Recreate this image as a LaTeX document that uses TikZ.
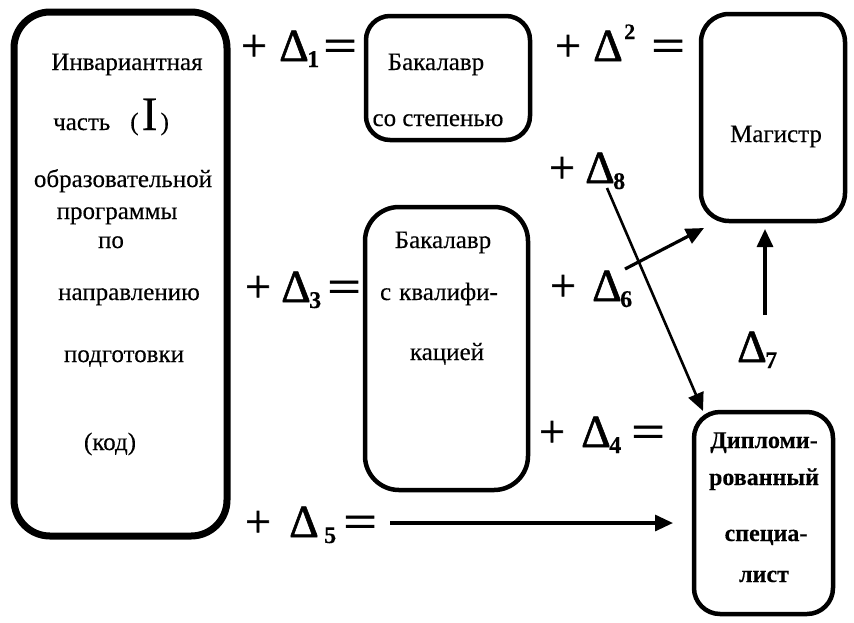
\documentclass[tikz,border=0pt]{standalone}
\usepackage{fontspec}
\setmainfont[FakeBold=0.3]{Liberation Serif}
\newfontfamily\symfont[FakeBold=1.2]{Liberation Serif}
\usepackage{graphicx}
\usetikzlibrary{arrows.meta}
\newcommand\eqsign{\scalebox{1.3}[1]{=}}
\begin{document}
\begin{tikzpicture}[x=1pt,y=-1pt,
  box/.style={draw, rounded corners=#1, line width=4.5pt, inner sep=0pt, outer sep=0pt},
  box/.default=28pt,
  bigbox/.style={box=36pt, line width=7pt},
  txt/.style={font=\fontsize{25}{25}\selectfont, inner sep=0pt, anchor=base},
  btxt/.style={txt, font=\bfseries\fontsize{24}{24}\selectfont},
  sym/.style={font=\symfont\fontsize{46}{46}\selectfont, inner sep=0pt, anchor=base},
  idx/.style={font=\bfseries\fontsize{24}{24}\selectfont, inner sep=0pt, anchor=base west},
  arr/.style={line width=3.2pt, -{Triangle[length=18pt,width=16pt]}}
]
\useasboundingbox (0,0) rectangle (854,622);

% rounded boxes
\node[bigbox, minimum width=213pt, minimum height=524pt] (inv) at (120.5,274) {};
\node[box=24pt, minimum width=164pt, minimum height=124pt] (bak1) at (448,78) {};
\node[box=34pt, minimum width=163pt, minimum height=283pt] (bak2) at (446.5,348.5) {};
\node[box=28pt, minimum width=144pt, minimum height=207pt] (mag) at (773,117.5) {};
\node[box=26pt, minimum width=139pt, minimum height=202pt] (dip) at (763.5,513) {};

% invariant part of the programme
\node[txt] (i1) at (127,70) {Инвариантная};
\node[txt, anchor=base west] (i2) at (53,130) {часть\hspace{20pt}(\hspace{3pt}{\fontsize{48}{48}\selectfont I}\hspace{3pt})};
\node[txt] (i3) at (123,187) {образовательной};
\node[txt] (i4) at (117,219) {программы};
\node[txt] (i5) at (111,248) {по};
\node[txt] (i6) at (129,300) {направлению};
\node[txt] (i7) at (124,362) {подготовки};
\node[txt] (i8) at (110,450) {(код)};

% bachelor with degree
\node[txt] (b1) at (436,70) {Бакалавр};
\node[txt] (b2) at (438,126) {со степенью};

% bachelor with qualification
\node[txt] (c1) at (443,248) {Бакалавр};
\node[txt] (c2) at (439,300) {с\hspace{8pt}квалифи-};
\node[txt] (c3) at (447,360) {кацией};

% master
\node[txt] (m1) at (776,142) {Магистр};

% certified specialist
\node[btxt] (s1) at (764,448) {Дипломи-};
\node[btxt] (s2) at (764,485) {рованный};
\node[btxt] (s3) at (766,541) {специа-};
\node[btxt] (s4) at (764,582) {лист};

% + Delta_1 =
\node[sym] (p1) at (254,61) {+};
\node[sym] (d1) at (294,61) {Δ};
\node[idx] (n1) at (307,67) {1};
\node[sym] (q1) at (340,61) {\eqsign};

% + Delta^2 =
\node[sym] (p2) at (568,61) {+};
\node[sym] (d2) at (608,61) {Δ};
\node[idx, font=\bfseries\fontsize{22}{22}\selectfont] (n2) at (624,39) {2};
\node[sym] (q2) at (668,61) {\eqsign};

% + Delta_8
\node[sym] (p8) at (562,183) {+};
\node[sym] (d8) at (600,183) {Δ};
\node[idx] (n8) at (613,189) {8};

% + Delta_3 =
\node[sym] (p3) at (258,302) {+};
\node[sym] (d3) at (296,302) {Δ};
\node[idx] (n3) at (309,308) {3};
\node[sym] (q3) at (344,302) {\eqsign};

% + Delta_6
\node[sym] (p6) at (563,301) {+};
\node[sym] (d6) at (607,301) {Δ};
\node[idx] (n6) at (620,307) {6};

% Delta_7
\node[sym] (d7) at (752,362) {Δ};
\node[idx] (n7) at (765,368) {7};

% + Delta_4 =
\node[sym] (p4) at (552,447) {+};
\node[sym] (d4) at (596,447) {Δ};
\node[idx] (n4) at (609,453) {4};
\node[sym] (q4) at (648,447) {\eqsign};

% + Delta_5 =
\node[sym] (p5) at (258,537) {+};
\node[sym] (d5) at (304,537) {Δ};
\node[idx] (n5) at (324,543) {5};
\node[sym] (q5) at (360,537) {\eqsign};

% free ends of the connectors
\coordinate (a5s) at (390,523);
\coordinate (a6s) at (625,269);
\coordinate (a7s) at (765,315);
\coordinate (a8s) at (607,188);

% connectors
\draw[arr] (a5s) -- (a5s -| dip.west) [shorten >=21pt];
\draw[arr] (a6s) -- ([shift={(3pt,-7pt)}]mag.south west);
\draw[arr] (a7s) -- (a7s |- mag.south) [shorten >=8pt];
\draw[arr, line width=2.6pt] (a8s) -- ([shift={(9pt,1pt)}]dip.north west);
\end{tikzpicture}
\end{document}
